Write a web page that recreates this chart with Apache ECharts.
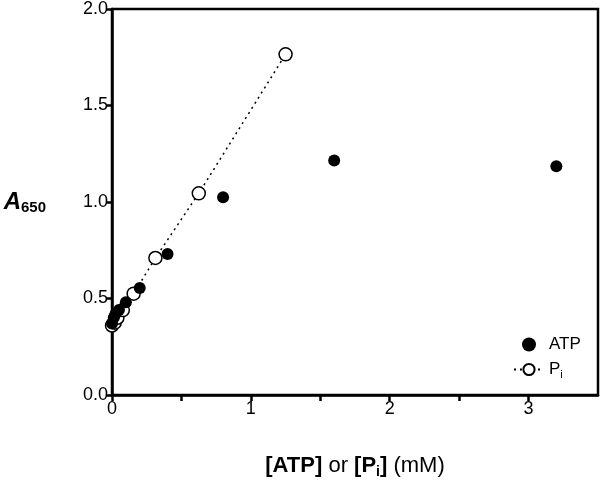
<!DOCTYPE html>
<html>
<head>
<meta charset="utf-8">
<script src="https://cdn.jsdelivr.net/npm/echarts@6/dist/echarts.min.js"></script>
<style>
  html, body { margin: 0; padding: 0; background: #fff; }
  #main { width: 600px; height: 484px; }
</style>
</head>
<body>
<div id="main"></div>
<script>
// ATP series (filled circles)
var atpX = [0, 0.0125, 0.025, 0.05, 0.1, 0.2, 0.4, 0.8, 1.6, 3.2];
var atpY = [0.37, 0.40, 0.42, 0.44, 0.48, 0.555, 0.73, 1.025, 1.215, 1.185];
// Pi series (open circles, dotted)
var piX = [0, 0.0195, 0.039, 0.078, 0.156, 0.3125, 0.625, 1.25];
var piY = [0.36, 0.375, 0.40, 0.44, 0.525, 0.71, 1.045, 1.765];

var xTicks = [0, 0.5, 1, 1.5, 2, 2.5, 3];
var xLabels = [0, 1, 2, 3];
var yLabels = [0, 0.5, 1, 1.5, 2];

function pairs(xs, ys) {
  return xs.map(function (x, i) { return [x, ys[i]]; });
}

var myChart = echarts.init(document.getElementById('main'));
var font = 'Liberation Sans, Arial, sans-serif';

var option = {
  animation: false,
  grid: { left: 112, top: 8, right: 2, bottom: 88, show: true, borderColor: '#000', borderWidth: 2.5 },
  legend: {
    orient: 'vertical',
    left: 508,
    top: 331,
    itemWidth: 30,
    itemHeight: 14,
    itemGap: 8,
    textStyle: {
      fontFamily: font, fontSize: 17, color: '#000',
      rich: {
        n: { fontFamily: font, fontSize: 17, color: '#000' },
        s: { fontFamily: font, fontSize: 11, color: '#000', padding: [10, 0, 0, 0] }
      }
    },
    formatter: function (name) {
      return name === 'Pi' ? '{n|P}{s|i}' : '{n|' + name + '}';
    },
    data: [
      { name: 'ATP', icon: 'circle' },
      { name: 'Pi' }
    ]
  },
  xAxis: {
    type: 'value',
    min: 0,
    max: 3.5,
    interval: 0.5,
    name: '{b|[ATP]}{n| or }{b|[P}{bs|i}{b|]}{n| (mM)}',
    nameLocation: 'middle',
    nameGap: 58,
    nameTextStyle: {
      rich: {
        b: { fontFamily: font, fontSize: 22, fontWeight: 'bold', color: '#000' },
        bs: { fontFamily: font, fontSize: 14, fontWeight: 'bold', color: '#000', padding: [12, 0, 0, 0] },
        n: { fontFamily: font, fontSize: 22, color: '#000' }
      }
    },
    axisLine: { onZero: false, lineStyle: { color: '#000', width: 2.5 } },
    axisTick: { show: true, length: 6, lineStyle: { color: '#000', width: 2.5 }, customValues: xTicks },
    axisLabel: { fontFamily: font, fontSize: 18, color: '#000', margin: 5, customValues: xLabels },
    splitLine: { show: false }
  },
  yAxis: {
    type: 'value',
    min: 0,
    max: 2,
    interval: 0.5,
    name: '{a|A}{s|650}',
    nameLocation: 'middle',
    nameRotate: 0,
    nameGap: 66,
    nameTextStyle: {
      rich: {
        a: { fontFamily: font, fontSize: 24, fontWeight: 'bold', fontStyle: 'italic', color: '#000' },
        s: { fontFamily: font, fontSize: 15, fontWeight: 'bold', color: '#000', padding: [12, 0, 0, 0] }
      }
    },
    axisLine: { onZero: false, lineStyle: { color: '#000', width: 2.5 } },
    axisTick: { show: true, length: 6, lineStyle: { color: '#000', width: 2.5 } },
    axisLabel: {
      fontFamily: font, fontSize: 18, color: '#000', margin: 4,
      customValues: yLabels,
      formatter: function (v) { return v.toFixed(1); }
    },
    splitLine: { show: false }
  },
  series: [
    {
      name: 'ATP',
      type: 'scatter',
      data: pairs(atpX, atpY),
      symbol: 'circle',
      symbolSize: 12,
      itemStyle: { color: '#000', opacity: 1 },
      z: 3
    },
    {
      name: 'Pi',
      type: 'line',
      data: pairs(piX, piY),
      symbol: 'circle',
      symbolSize: 13,
      showSymbol: true,
      itemStyle: { color: '#fff', borderColor: '#000', borderWidth: 1.5 },
      lineStyle: { color: '#000', width: 1.5, type: [2, 4] },
      z: 2
    }
  ]
};

myChart.setOption(option);
</script>
</body>
</html>
